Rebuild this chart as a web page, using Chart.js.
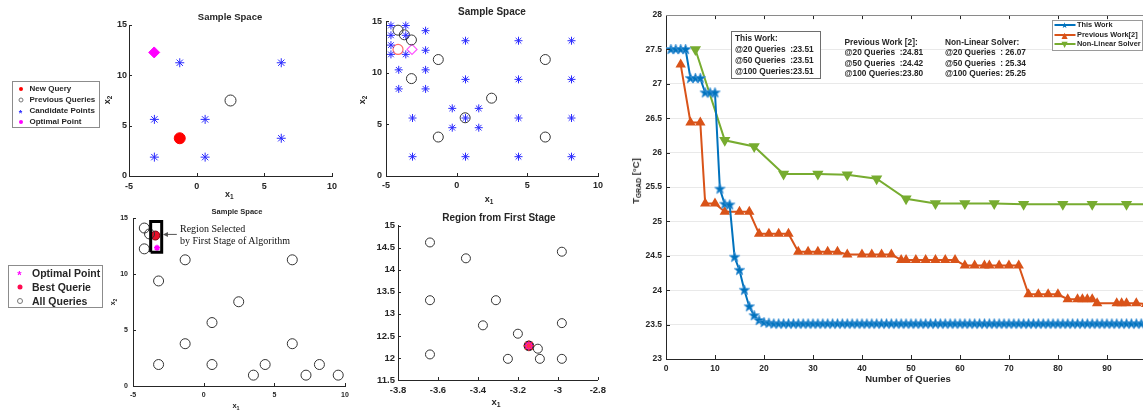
<!DOCTYPE html>
<html>
<head>
<meta charset="utf-8">
<title>Sample space and convergence</title>
<script src="https://cdn.jsdelivr.net/npm/chart.js@4.4.1/dist/chart.umd.min.js"></script>
<style>
  body { margin: 0; width: 1143px; height: 412px; overflow: hidden; background: #fff; position: relative;
         font-family: "Liberation Sans", Arial, sans-serif; color: #262626; }
  canvas { position: absolute; }
  .lbl { position: absolute; font-weight: bold; white-space: pre; line-height: 1; z-index: 2; }
  .c { transform: translate(-50%, -50%); }
  .l { transform: translateY(-50%); }
  .v { transform: translate(-50%, -50%) rotate(-90deg); }
  .box { position: absolute; border: 1px solid #8c8c8c; background: #fff; z-index: 2; box-sizing: border-box; }
  .mk { position: absolute; z-index: 3; transform: translate(-50%, -50%); line-height: 1; }
  sub { font-size: 72%; position: relative; top: 0.35em; vertical-align: baseline; }
</style>
</head>
<body>
<canvas id="p1"></canvas>
<canvas id="p2"></canvas>
<canvas id="p3"></canvas>
<canvas id="p4"></canvas>
<canvas id="main"></canvas>
<script>
// ---- right chart: T_GRAD vs number of queries ----
const workT = [
  27.5, 27.5, 27.5, 27.5, 27.08, 27.08, 27.08, 26.87, 26.87, 26.87,
  25.47, 25.25, 25.24, 24.48, 24.29, 24.0, 23.76, 23.63, 23.56, 23.53,
  23.52, 23.51, 23.51, 23.51, 23.51, 23.51, 23.51, 23.51, 23.51, 23.51,
  23.51, 23.51, 23.51, 23.51, 23.51, 23.51, 23.51, 23.51, 23.51, 23.51,
  23.51, 23.51, 23.51, 23.51, 23.51, 23.51, 23.51, 23.51, 23.51, 23.51,
  23.51, 23.51, 23.51, 23.51, 23.51, 23.51, 23.51, 23.51, 23.51, 23.51,
  23.51, 23.51, 23.51, 23.51, 23.51, 23.51, 23.51, 23.51, 23.51, 23.51,
  23.51, 23.51, 23.51, 23.51, 23.51, 23.51, 23.51, 23.51, 23.51, 23.51,
  23.51, 23.51, 23.51, 23.51, 23.51, 23.51, 23.51, 23.51, 23.51, 23.51,
  23.51, 23.51, 23.51, 23.51, 23.51, 23.51, 23.51, 23.51, 23.51, 23.51
];
const prevQ = [3, 5, 7, 8, 10, 12, 15, 17, 19, 21, 23, 25, 27, 29, 31, 33, 35, 37, 40, 42, 44, 46,
  48, 49, 51, 53, 55, 57, 59, 61, 63, 65, 66, 68, 70, 72, 74, 76, 78, 80, 82, 84, 85, 86, 87,
  88, 92, 93, 94, 96, 98, 100];
const prevT = [27.28, 26.44, 26.44, 25.26, 25.26, 25.14, 25.14, 25.14, 24.82, 24.82, 24.82, 24.82,
  24.56, 24.56, 24.56, 24.56, 24.56, 24.52, 24.52, 24.52, 24.52, 24.52,
  24.44, 24.44, 24.44, 24.44, 24.44, 24.44, 24.44, 24.36, 24.36, 24.36, 24.36, 24.36, 24.36, 24.36,
  23.94, 23.94, 23.94, 23.94, 23.87, 23.87, 23.87, 23.87, 23.87,
  23.81, 23.81, 23.81, 23.81, 23.81, 23.80, 23.80];
const nlsQ = [6, 12, 18, 24, 31, 37, 43, 49, 55, 61, 67, 73, 81, 87, 94, 100];
const nlsT = [27.5, 26.18, 26.09, 25.69, 25.69, 25.68, 25.62, 25.33, 25.26, 25.26, 25.26, 25.25,
  25.25, 25.25, 25.25, 25.25];
const seriesNames = ['This Work', 'Previous Work[2]', 'Non-Linear Solver'];

// ---- panel 1: first sample space ----
const p1CandX = [-3.125, -1.25, 0.625, 0.625, -3.125, 6.25, 6.25];
const p1CandY = [5.625, 11.25, 5.625, 1.875, 1.875, 11.25, 3.75];
const p1PrevX = [2.5], p1PrevY = [7.5];
const p1NewX = [-1.25], p1NewY = [3.75];
const p1OptX = [-3.14], p1OptY = [12.275];

// ---- panel 2: refined sample space ----
const p2CandX = [0.625, 0.625, 0.625, 0.625, 4.375, 4.375, 4.375, 4.375, 8.125, 8.125, 8.125, 8.125,
  -3.125, -3.125, -0.3125, 1.5625, -0.3125, 1.5625,
  -4.1, -4.1, -2.2, -2.2, -2.2, -2.2,
  -4.65, -4.65, -4.65, -4.65, -3.6, -3.6, -3.6];
const p2CandY = [1.875, 5.625, 9.375, 13.125, 1.875, 5.625, 9.375, 13.125, 1.875, 5.625, 9.375, 13.125,
  5.625, 1.875, 6.5625, 6.5625, 4.6875, 4.6875,
  10.3, 8.45, 10.3, 8.45, 14.1, 12.2,
  14.6, 13.65, 12.7, 11.8, 14.6, 13.65, 11.8];
const p2PrevX = [-4.15, -3.7, -3.2, -3.2, -1.3, 6.27, 2.47, 0.6, -1.3, 6.27];
const p2PrevY = [14.15, 13.7, 13.2, 9.45, 11.3, 11.3, 7.55, 5.65, 3.78, 3.78];
const p2NewX = [-4.15], p2NewY = [12.28];
const p2OptX = [-3.16], p2OptY = [12.28];

// ---- panel 3: all queries ----
const p3AllX = [-4.2, -3.83, -4.2, -1.31, -3.19, 2.48, 0.59, -1.31, 6.27, 6.27, -3.19, 0.59,
  3.52, 4.35, 7.24, 8.19, 9.52];
const p3AllY = [14.12, 13.59, 12.26, 11.28, 9.39, 7.53, 5.67, 3.78, 11.28, 3.78, 1.92, 1.92,
  0.97, 1.92, 0.97, 1.92, 0.97];
const p3BestX = [-3.42], p3BestY = [13.45];
const p3OptX = [-3.3], p3OptY = [12.35];
const regionX = [-3.75, -2.97, -2.97, -3.75, -3.75];
const regionY = [11.95, 11.95, 14.7, 14.7, 11.95];
const arrowX = [-1.9, -2.88], arrowY = [13.55, 13.55];

// ---- panel 4: region from first stage ----
const p4AllX = [-3.64, -3.46, -2.98, -3.64, -3.31, -3.375, -2.98, -3.2, -3.1, -3.64, -3.25, -3.09, -2.98];
const p4AllY = [14.62, 14.26, 14.41, 13.31, 13.31, 12.74, 12.79, 12.55, 12.21, 12.08, 11.98, 11.98, 11.98];
const p4OptX = [-3.145], p4OptY = [12.275];

const FONT = 'Liberation Sans';
const INK = '#262626';

function pts(xs, ys) { return xs.map((x, i) => ({ x: x, y: ys[i] })); }
function fmt(v) { return String(Math.round(v * 100) / 100); }

// MATLAB style ticks pointing inside the axes
const inTicks = {
  id: 'inTicks',
  afterDraw(chart, args, o) {
    const { ctx, chartArea: a, scales: { x, y } } = chart;
    const len = o.len || 3;
    ctx.save();
    ctx.strokeStyle = o.color || INK;
    ctx.lineWidth = 1;
    ctx.beginPath();
    x.ticks.forEach(t => {
      const px = Math.round(x.getPixelForValue(t.value)) + 0.5;
      ctx.moveTo(px, a.bottom); ctx.lineTo(px, a.bottom - len);
      if (o.box) { ctx.moveTo(px, a.top); ctx.lineTo(px, a.top + len); }
    });
    y.ticks.forEach(t => {
      const py = Math.round(y.getPixelForValue(t.value)) + 0.5;
      ctx.moveTo(a.left, py); ctx.lineTo(a.left + len, py);
    });
    ctx.stroke();
    if (o.box) {
      ctx.strokeStyle = '#8a8a8a';
      ctx.beginPath();
      ctx.moveTo(a.left, Math.round(a.top) + 0.5); ctx.lineTo(a.right, Math.round(a.top) + 0.5);
      ctx.stroke();
    }
    ctx.restore();
  }
};

function makePanel(id, box, xr, yr, step, fs, pad, datasets, extra) {
  const yw = 30, xh = 18, pt = 8, pr = 12;
  const cv = document.getElementById(id);
  cv.width = box.R - box.L + yw + pr;
  cv.height = box.B - box.T + pt + xh;
  cv.style.left = (box.L - yw) + 'px';
  cv.style.top = (box.T - pt) + 'px';
  const f = { family: FONT, size: fs, weight: 'bold' };
  return new Chart(cv, {
    type: 'scatter',
    data: { datasets: datasets },
    options: {
      responsive: false, animation: false, devicePixelRatio: 1,
      layout: { padding: { top: pt, right: pr, left: 0, bottom: 0 } },
      plugins: { legend: { display: false }, tooltip: { enabled: false }, inTicks: { len: 3 } },
      scales: {
        x: { type: 'linear', min: xr[0], max: xr[1], afterFit: s => { s.height = xh; },
             grid: { display: false, drawTicks: false }, border: { color: INK },
             ticks: { stepSize: step[0], font: f, color: INK, padding: pad[0], maxRotation: 0, callback: fmt } },
        y: { type: 'linear', min: yr[0], max: yr[1], afterFit: s => { s.width = yw; },
             grid: { display: false, drawTicks: false }, border: { color: INK },
             ticks: { stepSize: step[1], font: f, color: INK, padding: pad[1], callback: fmt } }
      }
    },
    plugins: [inTicks].concat(extra || [])
  });
}

function scat(xs, ys, style, r, fill, edge, bw) {
  return { data: pts(xs, ys), pointStyle: style, pointRadius: r, pointBackgroundColor: fill,
           pointBorderColor: edge, pointBorderWidth: bw || 1, clip: false };
}
const NONE = 'rgba(0,0,0,0)';

makePanel('p1', { L: 129.3, R: 332.3, T: 25, B: 176.7 }, [-5, 10], [0, 15], [5, 5], 9, [5, 2], [
  scat(p1CandX, p1CandY, 'star', 4.5, NONE, '#2a2aff', 1),
  scat(p1PrevX, p1PrevY, 'circle', 5.5, NONE, '#333', 1),
  scat(p1NewX, p1NewY, 'circle', 5.5, '#ff0000', '#ff0000', 1),
  scat(p1OptX, p1OptY, 'rectRot', 5.5, '#ff00ff', '#ff00ff', 1)
]);

makePanel('p2', { L: 386, R: 598.3, T: 20, B: 176 }, [-5, 10], [0, 15], [5, 5], 9, [4, 4], [
  scat(p2CandX, p2CandY, 'star', 4, NONE, '#2a2aff', 1),
  scat(p2PrevX, p2PrevY, 'circle', 5, NONE, '#333', 1),
  scat(p2NewX, p2NewY, 'circle', 5, NONE, '#ff6a6a', 1.2),
  scat(p2OptX, p2OptY, 'rectRot', 5, NONE, '#ff55ff', 1.2)
]);

const arrowPlugin = {
  id: 'arrow',
  afterDatasetsDraw(chart) {
    const { ctx, scales: { x, y } } = chart;
    const x0 = x.getPixelForValue(arrowX[0]), y0 = y.getPixelForValue(arrowY[0]);
    const x1 = x.getPixelForValue(arrowX[1]), y1 = y.getPixelForValue(arrowY[1]);
    ctx.save();
    ctx.strokeStyle = '#555'; ctx.fillStyle = '#555'; ctx.lineWidth = 1;
    ctx.beginPath(); ctx.moveTo(x0, y0); ctx.lineTo(x1 + 4, y1); ctx.stroke();
    ctx.beginPath(); ctx.moveTo(x1, y1); ctx.lineTo(x1 + 5, y1 - 2.5); ctx.lineTo(x1 + 5, y1 + 2.5);
    ctx.closePath(); ctx.fill();
    ctx.restore();
  }
};

makePanel('p3', { L: 132.7, R: 345, T: 217.3, B: 386.7 }, [-5, 10], [0, 15], [5, 5], 7, [5, 5], [
  { data: pts(regionX, regionY), showLine: true, borderColor: '#000', borderWidth: 3, pointRadius: 0,
    backgroundColor: '#fff', fill: true, clip: false },
  scat(p3AllX, p3AllY, 'circle', 5, NONE, '#333', 1),
  scat(p3OptX, p3OptY, 'star', 3, NONE, '#ff00ff', 1.5),
  scat(p3BestX, p3BestY, 'circle', 4.5, '#e8102a', '#7a0010', 1)
], [arrowPlugin]);

makePanel('p4', { L: 398.3, R: 600, T: 225, B: 380.7 }, [-3.8, -2.8], [11.5, 15], [0.2, 0.5], 9.5, [5, 3], [
  scat(p4AllX, p4AllY, 'circle', 4.5, NONE, '#333', 1),
  scat(p4OptX, p4OptY, 'star', 5.5, NONE, '#ff3344', 1.2),
  scat(p4OptX, p4OptY, 'circle', 4.5, '#ff00ff', '#222', 1.5)
]);

// ---- right chart ----
function starImg(r, fill, edge) {
  const c = document.createElement('canvas');
  c.width = c.height = Math.ceil(r * 2 + 2);
  const g = c.getContext('2d');
  g.beginPath();
  for (let i = 0; i < 10; i++) {
    const a = -Math.PI / 2 + i * Math.PI / 5;
    const rr = i % 2 ? r * 0.42 : r;
    g.lineTo(c.width / 2 + rr * Math.cos(a), c.height / 2 + rr * Math.sin(a));
  }
  g.closePath();
  g.fillStyle = fill; g.fill();
  g.strokeStyle = edge; g.lineWidth = 1; g.stroke();
  return c;
}

(function () {
  const L = 666, R = 1156, T = 14, B = 359, yw = 36, xh = 30, pt = 8, pr = 12;
  const cv = document.getElementById('main');
  cv.width = R - L + yw + pr;
  cv.height = B - T + pt + xh;
  cv.style.left = (L - yw) + 'px';
  cv.style.top = (T - pt) + 'px';
  const f = { family: FONT, size: 8.5, weight: 'bold' };
  new Chart(cv, {
    type: 'line',
    data: {
      datasets: [
        { label: seriesNames[0], data: workT.map((t, i) => ({ x: i + 1, y: t })), borderColor: '#0072BD',
          borderWidth: 2, pointStyle: starImg(5.5, '#0072BD', 'rgba(70,150,215,0.8)'), pointRadius: 5, tension: 0 },
        { label: seriesNames[1], data: pts(prevQ, prevT), borderColor: '#D95319', borderWidth: 2,
          pointStyle: 'triangle', pointRadius: 4, pointBackgroundColor: '#D95319', pointBorderColor: '#D95319', tension: 0 },
        { label: seriesNames[2], data: pts(nlsQ, nlsT), borderColor: '#77AC30', borderWidth: 2,
          pointStyle: 'triangle', pointRotation: 180, pointRadius: 4.5, pointBackgroundColor: '#77AC30',
          pointBorderColor: '#77AC30', tension: 0 }
      ]
    },
    options: {
      responsive: false, animation: false, devicePixelRatio: 1,
      layout: { padding: { top: pt, right: pr, left: 0, bottom: 0 } },
      plugins: { legend: { display: false }, tooltip: { enabled: false }, inTicks: { len: 4, box: true } },
      scales: {
        x: { type: 'linear', min: 0, max: 100, afterFit: s => { s.height = xh; },
             grid: { display: false, drawTicks: false }, border: { color: INK },
             ticks: { stepSize: 10, font: f, color: INK, padding: 5, maxRotation: 0, callback: fmt } },
        y: { type: 'linear', min: 23, max: 28, afterFit: s => { s.width = yw; },
             grid: { color: '#e9e9e9', drawTicks: false }, border: { color: INK },
             ticks: { stepSize: 0.5, font: f, color: INK, padding: 4, callback: fmt } }
      }
    },
    plugins: [inTicks]
  });
})();

// ---- text ----
function addText(html, x, y, cls, style) {
  const d = document.createElement('div');
  d.className = 'lbl ' + (cls || '');
  d.innerHTML = html;
  d.style.left = x + 'px';
  d.style.top = y + 'px';
  Object.assign(d.style, style || {});
  document.body.appendChild(d);
  return d;
}
function addBox(x, y, w, h, style) {
  const d = document.createElement('div');
  d.className = 'box';
  Object.assign(d.style, { left: x + 'px', top: y + 'px', width: w + 'px', height: h + 'px' }, style || {});
  document.body.appendChild(d);
}
function addMark(x, y, css, txt) {
  const d = document.createElement('div');
  d.className = 'mk';
  d.style.cssText += css;
  d.style.left = x + 'px';
  d.style.top = y + 'px';
  if (txt) d.textContent = txt;
  document.body.appendChild(d);
}

// titles and axis labels of the small panels
addText('Sample Space', 230, 17, 'c', { fontSize: '9.5px' });
addText('Sample Space', 492, 12, 'c', { fontSize: '10px' });
addText('Sample Space', 237, 212, 'c', { fontSize: '7.5px' });
addText('Region from First Stage', 499, 217.5, 'c', { fontSize: '10px' });
addText('x<sub>2</sub>', 107, 100, 'v', { fontSize: '9px' });
addText('x<sub>2</sub>', 362, 100, 'v', { fontSize: '9px' });
addText('x<sub>2</sub>', 113, 302, 'v', { fontSize: '7px' });
addText('x<sub>1</sub>', 489, 199, 'c', { fontSize: '9px' });
addText('x<sub>1</sub>', 236, 406, 'c', { fontSize: '7.5px' });
addText('x<sub>1</sub>', 496, 402, 'c', { fontSize: '9.5px' });
// label of the first panel, partly hidden by the panel below it
addText('<div style="position:absolute;left:0;top:-2px">x<sub>1</sub></div>', 225, 192, '',
  { width: '14px', height: '9px', overflow: 'hidden', fontSize: '9px' });

// panel 1 legend
const leg1 = ['New Query', 'Previous Queries', 'Candidate Points', 'Optimal Point'];
const leg1Y = [88.7, 100, 111, 122];
addBox(12, 81, 88, 47);
addMark(20.5, leg1Y[0], 'width:4px;height:4px;border-radius:50%;background:#ff0000;');
addMark(20.5, leg1Y[1], 'width:3px;height:3px;border-radius:50%;border:1px solid #777;');
addMark(20.5, leg1Y[2] + 2, 'color:#2a2aff;font:bold 9px "Liberation Sans";', '*');
addMark(20.5, leg1Y[3], 'width:4px;height:4px;border-radius:50%;background:#ff00ff;');
leg1.forEach((t, i) => addText(t, 29.5, leg1Y[i], 'l', { fontSize: '8px' }));

// panel 3 legend
const leg3 = ['Optimal Point', 'Best Querie', 'All Queries'];
const leg3Y = [272.5, 287, 301];
addBox(8, 265, 95, 43);
addMark(19.5, leg3Y[0] + 2.5, 'color:#ff00ff;font:bold 11px "Liberation Sans";', '*');
addMark(19.5, leg3Y[1], 'width:5px;height:5px;border-radius:50%;background:#ff0a50;');
addMark(19.5, leg3Y[2], 'width:4px;height:4px;border-radius:50%;border:1px solid #777;');
leg3.forEach((t, i) => addText(t, 32, leg3Y[i], 'l', { fontSize: '10.5px' }));

addText('Region Selected\nby First Stage of Algorithm', 180, 223, '',
  { fontFamily: '"Liberation Serif", "Times New Roman", serif', fontWeight: 'normal', fontSize: '10px',
    lineHeight: '11.7px', color: '#111' });

// right chart texts
addText('T<sub>GRAD</sub> [°C]', 636, 181, 'v', { fontSize: '9.5px' });
addText('Number of Queries', 908, 379, 'c', { fontSize: '9.5px' });

addBox(731, 31, 90, 48, { borderColor: '#6e6e6e' });
addText('This Work:\n@20 Queries  :23.51\n@50 Queries  :23.51\n@100 Queries:23.51', 735, 33, '',
  { fontSize: '8.3px', lineHeight: '10.9px' });
addText('Previous Work [2]:\n@20 Queries  :24.81\n@50 Queries  :24.42\n@100 Queries:23.80', 844.5, 36.5, '',
  { fontSize: '8.3px', lineHeight: '10.5px' });
addText('Non-Linear Solver:\n@20 Queries  : 26.07\n@50 Queries  : 25.34\n@100 Queries: 25.25', 945, 37, '',
  { fontSize: '8.3px', lineHeight: '10.3px' });

// right chart legend
const legColors = ['#0072BD', '#D95319', '#77AC30'];
const legChars = ['\u2605', '\u25B2', '\u25BC'];
const legY = [25.3, 34.7, 44];
addBox(1052, 20, 91, 31, { borderColor: '#9a9a9a' });
seriesNames.forEach((n, i) => {
  addMark(1064.5, legY[i], 'width:21px;height:2px;background:' + legColors[i] + ';');
  addMark(1064.5, legY[i], 'color:' + legColors[i] + ';font:bold 8px "DejaVu Sans";', legChars[i]);
  addText(n, 1077, legY[i], 'l', { fontSize: '7.4px' });
});
</script>
</body>
</html>
